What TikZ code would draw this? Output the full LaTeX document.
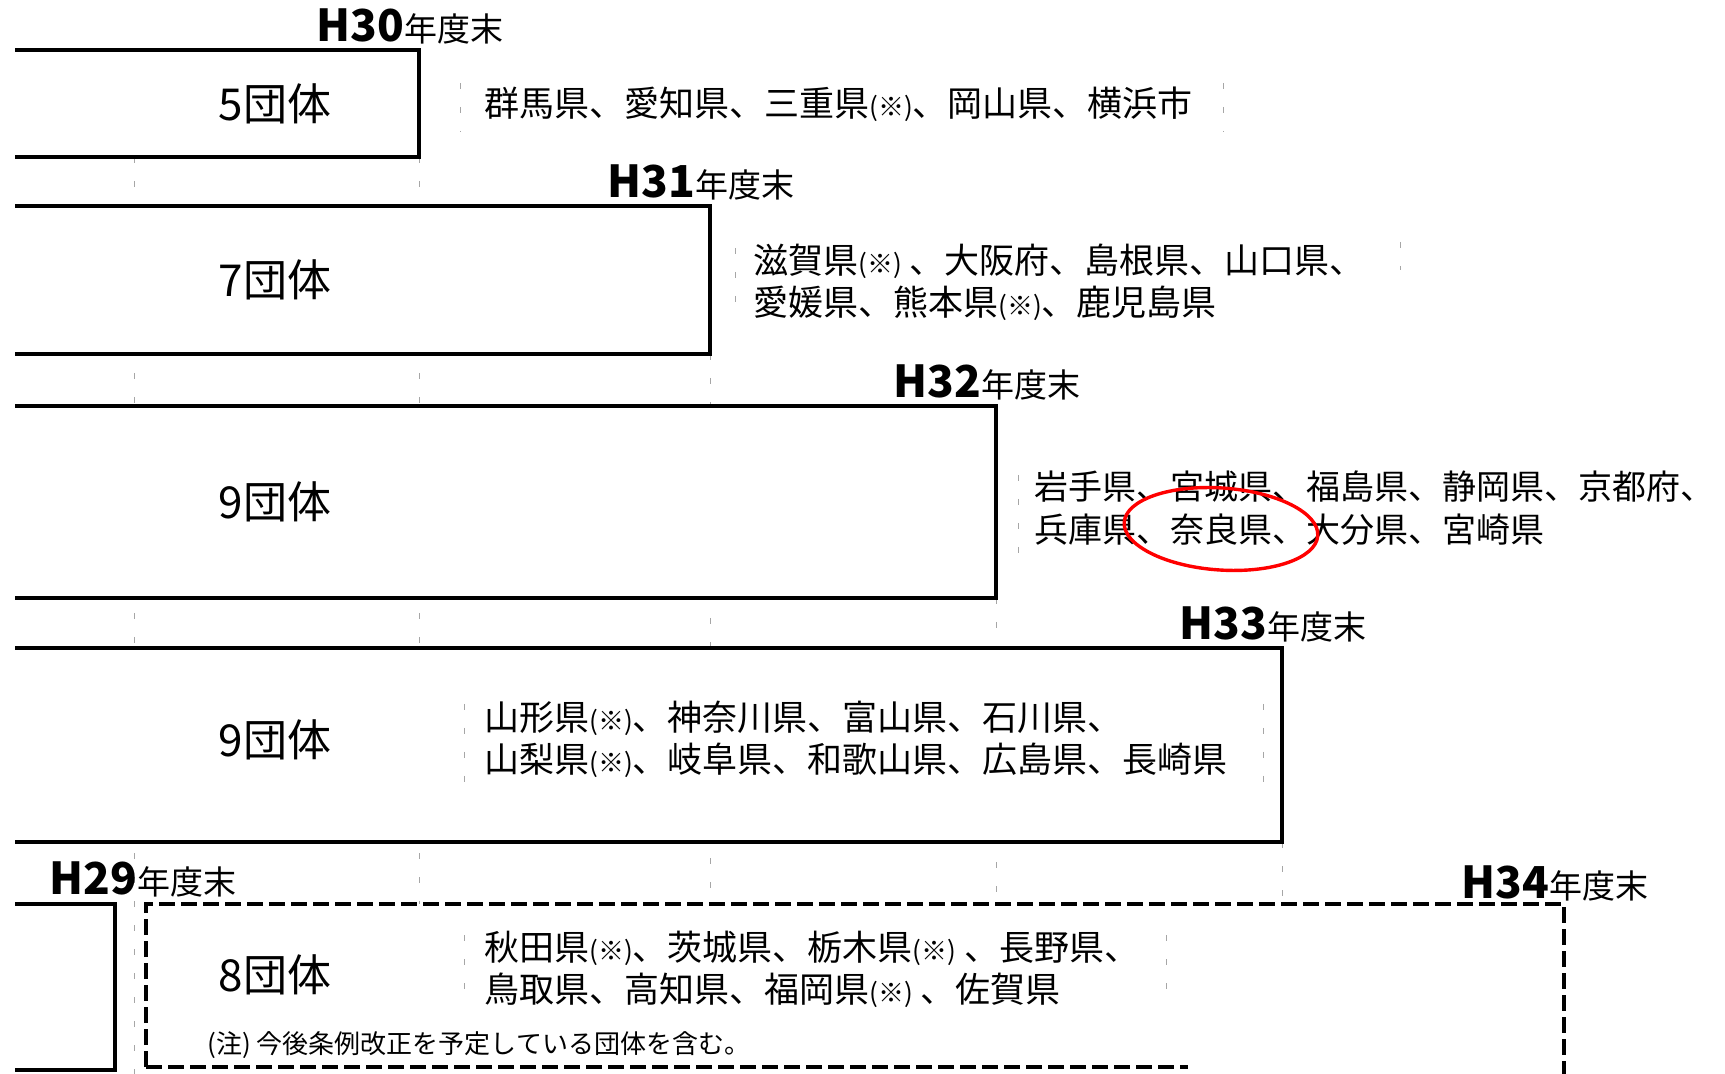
\documentclass[tikz,border=0pt]{standalone}
\usepackage{fontspec}
\newfontfamily\jp{Noto Sans CJK JP}
\usetikzlibrary{positioning, calc}
\tikzstyle{yearline} = [line width=1.6pt, line join=miter]
\tikzstyle{planline} = [line width=1.6pt, dash pattern=on 8pt off 3pt]
\tikzstyle{scan} = [gray!70, line width=0.5pt, dash pattern=on 3pt off 9pt]

\newcommand{\kome}{{\fontsize{13}{15}\selectfont(※)}}
\newcommand{\nendo}[1]{{\bfseries\fontsize{22}{26}\selectfont #1}{\fontsize{16.5}{18}\selectfont 年度末}}

\begin{document}
\begin{tikzpicture}
	[x=0.5pt, y=-0.5pt,
	count/.style={font=\jp\fontsize{22}{26}\selectfont, inner sep=0pt},
	year/.style={font=\jp, anchor=base, inner sep=0pt},
	names/.style={font=\jp\fontsize{17.5}{21}\selectfont, align=left, anchor=west, inner sep=0pt},
	note/.style={font=\jp\fontsize{13}{15}\selectfont, anchor=west, inner sep=0pt}]
	\useasboundingbox (0,0) rectangle (1725,1074);

	% box corners
	\coordinate (b30tl) at (15,50);    \coordinate (b30tr) at (419,50);    \coordinate (b30br) at (419,157);
	\coordinate (b31tl) at (15,206);   \coordinate (b31tr) at (710,206);   \coordinate (b31br) at (710,354);
	\coordinate (b32tl) at (15,406);   \coordinate (b32tr) at (996,406);   \coordinate (b32br) at (996,598);
	\coordinate (b33tl) at (15,648);   \coordinate (b33tr) at (1282,648);  \coordinate (b33br) at (1282,842);
	\coordinate (b29tl) at (15,904);   \coordinate (b29tr) at (115,904);   \coordinate (b29br) at (115,1070);
	\coordinate (b34tl) at (146,904);  \coordinate (b34tr) at (1564,904);  \coordinate (b34br) at (1564,1074);
	\coordinate (b34bl) at (146,1067); \coordinate (b34be) at (1188,1067);

	% faint guide marks from the scan
	\draw[scan] (134,157) -- (134,1074);
	\draw[scan] (419,157) -- (419,904);
	\draw[scan] (710,354) -- (710,904);
	\draw[scan] (996,598) -- (996,904);
	\draw[scan] (1282,842) -- (1282,904);
	\fill[white] (b31tl) rectangle (b31br);
	\fill[white] (b32tl) rectangle (b32br);
	\fill[white] (b33tl) rectangle (b33br);
	\fill[white] (b34tl) rectangle (b34br);

	% years
	\draw[yearline] (b30tl) -- (b30tr) -- (b30br) -- (b30tl |- b30br);
	\draw[yearline] (b31tl) -- (b31tr) -- (b31br) -- (b31tl |- b31br);
	\draw[yearline] (b32tl) -- (b32tr) -- (b32br) -- (b32tl |- b32br);
	\draw[yearline] (b33tl) -- (b33tr) -- (b33br) -- (b33tl |- b33br);
	\draw[yearline] (b29tl) -- (b29tr) -- (b29br) -- (b29tl |- b29br);
	\draw[planline] (b34bl) -- (b34tl) -- (b34tr) -- (b34br);
	\draw[planline] (b34bl) -- (b34be);

	\node[year] (h30) at ([xshift=-4.5pt,yshift=4pt]b30tr) {\nendo{H30}};
	\node[year] (h31) at ([xshift=-4.5pt,yshift=4pt]b31tr) {\nendo{H31}};
	\node[year] (h32) at ([xshift=-4.5pt,yshift=4pt]b32tr) {\nendo{H32}};
	\node[year] (h33) at ([xshift=-4.5pt,yshift=4pt]b33tr) {\nendo{H33}};
	\node[year] (h34) at ([xshift=-4.5pt,yshift=3pt]b34tr) {\nendo{H34}};
	\node[year] (h29) at ([xshift=-1.5pt,yshift=5pt]b34tl) {\nendo{H29}};

	\node[count] (n30) at (275,104) {5団体};
	\node[count] (n31) at (275,280) {7団体};
	\node[count] (n32) at (275,502) {9団体};
	\node[count] (n33) at (275,740) {9団体};
	\node[count] (n34) at (275,975) {8団体};

	\node[names] (l30) at (484,104) {群馬県、愛知県、三重県\kome、岡山県、横浜市};
	\node[names] (l31) at (753,282) {滋賀県\kome{} 、大阪府、島根県、山口県、\\愛媛県、熊本県\kome、鹿児島県};
	\node[names, font=\jp\fontsize{17}{21.5}\selectfont] (l32) at (1034,508) {岩手県、宮城県、福島県、静岡県、京都府、\\兵庫県、奈良県、大分県、宮崎県};
	\node[names] (l33) at (484,739) {山形県\kome、神奈川県、富山県、石川県、\\山梨県\kome、岐阜県、和歌山県、広島県、長崎県};
	\node[names] (l34) at (484,969) {秋田県\kome、茨城県、栃木県\kome{} 、長野県、\\鳥取県、高知県、福岡県\kome{} 、佐賀県};
	\node[note] (chu) at (207,1045) {(注) 今後条例改正を予定している団体を含む。};

	% text box edges left by the scan
	\draw[scan] (460,83) -- (460,132);   \draw[scan] (1223,83) -- (1223,132);
	\draw[scan] (735,248) -- (735,319);  \draw[scan] (1400,242) -- (1400,270);
	\draw[scan] (1018,475) -- (1018,563);
	\draw[scan] (464,704) -- (464,792);  \draw[scan] (1263,704) -- (1263,792);
	\draw[scan] (464,935) -- (464,1006); \draw[scan] (1166,935) -- (1166,1006);

	% mark on Nara
	\draw[red, line width=1.7pt] (1221,529) ellipse [x radius=97, y radius=41, rotate=-4];
\end{tikzpicture}
\end{document}
